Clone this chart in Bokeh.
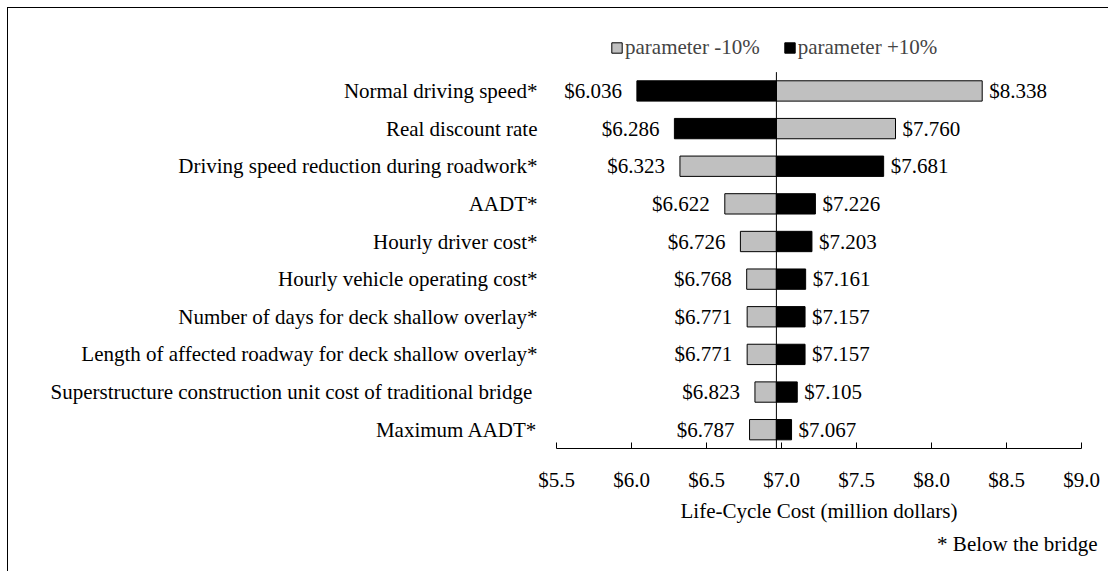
from bokeh.plotting import figure
from bokeh.models import (FactorRange, Range1d, Legend, LegendItem, FixedTicker,
                          NumeralTickFormatter, Title, ColumnDataSource)
from bokeh.core.properties import value
from bokeh.embed import file_html
from bokeh.resources import INLINE

# ---------------- data ----------------
parameters = [
    "Normal driving speed*",
    "Real discount rate",
    "Driving speed reduction during roadwork*",
    "AADT*",
    "Hourly driver cost*",
    "Hourly vehicle operating cost*",
    "Number of days for deck shallow overlay*",
    "Length of affected roadway for deck shallow overlay*",
    "Superstructure construction unit cost of traditional  bridge",
    "Maximum AADT*",
]
minus_10 = [8.338, 7.760, 6.323, 6.622, 6.726, 6.768, 6.771, 6.771, 6.823, 6.787]
plus_10 = [6.036, 6.286, 7.681, 7.226, 7.203, 7.161, 7.157, 7.157, 7.105, 7.067]
base_cost = 6.966
x_ticks = [5.5, 6.0, 6.5, 7.0, 7.5, 8.0, 8.5, 9.0]
series_names = ["parameter -10%", "parameter +10%"]

FONT = "Liberation Serif"
FS = "21px"
GREY = "#C0C0C0"
TOP_PAD = " "  # empty band above the bars that holds the legend

p = figure(width=1101, height=564, output_backend="svg", toolbar_location=None,
           x_range=Range1d(x_ticks[0], x_ticks[-1]),
           y_range=FactorRange(factors=list(reversed(parameters)) + [TOP_PAD]),
           min_border_left=548, min_border_right=28, min_border_top=26,
           min_border_bottom=124)
p.margin = (7, 0, 0, 7)
p.styles = {"border-top": "1px solid black", "border-left": "1px solid black"}
p.outline_line_color = None
p.xgrid.grid_line_color = None
p.ygrid.grid_line_color = None

src = ColumnDataSource(dict(y=parameters, base=[base_cost] * len(parameters),
                            lo=minus_10, hi=plus_10))
r_lo = p.hbar(y="y", left="base", right="lo", height=0.54, source=src,
              fill_color=GREY, line_color="black", line_width=1)
r_hi = p.hbar(y="y", left="base", right="hi", height=0.54, source=src,
              fill_color="black", line_color="black", line_width=1)

# vertical base-cost line spanning the bar area
p.segment(x0=[base_cost], x1=[base_cost],
          y0=[(parameters[0], 0.5)], y1=[(parameters[-1], -0.5)],
          line_color="black", line_width=1)

# value labels
lx, ly, lt, rx, ry, rt = [], [], [], [], [], []
for cat, a, b in zip(parameters, minus_10, plus_10):
    for v in (a, b):
        if v < base_cost:
            lx.append(v); ly.append(cat); lt.append(f"${v:.3f}")
        else:
            rx.append(v); ry.append(cat); rt.append(f"${v:.3f}")
p.text(x=lx, y=ly, text=lt, text_align="right", text_baseline="middle", x_offset=-15,
       text_font=value(FONT), text_font_size=FS, text_color="black")
p.text(x=rx, y=ry, text=rt, text_align="left", text_baseline="middle", x_offset=7,
       text_font=value(FONT), text_font_size=FS, text_color="black")

# axes
xa = p.xaxis[0]
xa.ticker = FixedTicker(ticks=x_ticks)
xa.formatter = NumeralTickFormatter(format="$0.0")
xa.minor_tick_line_color = None
xa.major_tick_in = 6
xa.major_tick_out = 0
xa.major_label_standoff = 19
xa.major_label_text_font = FONT
xa.major_label_text_font_size = FS
xa.major_label_text_color = "black"
xa.axis_line_color = "black"
xa.major_tick_line_color = "black"
xa.axis_label = "Life-Cycle Cost (million dollars)"
xa.axis_label_text_font = FONT
xa.axis_label_text_font_size = FS
xa.axis_label_text_font_style = "normal"
xa.axis_label_text_color = "black"
xa.axis_label_standoff = 4

ya = p.yaxis[0]
ya.axis_line_color = None
ya.major_tick_line_color = None
ya.minor_tick_line_color = None
ya.major_label_standoff = 13
ya.major_label_text_font = FONT
ya.major_label_text_font_size = FS
ya.major_label_text_color = "black"
ya.major_label_overrides = {TOP_PAD: ""}

legend = Legend(items=[LegendItem(label=series_names[0], renderers=[r_lo]),
                       LegendItem(label=series_names[1], renderers=[r_hi])],
                orientation="horizontal", location=(54, 388), margin=0, padding=0,
                spacing=23, glyph_width=13, glyph_height=13, label_standoff=2,
                label_text_font=FONT, label_text_font_size=FS, label_height=20,
                border_line_color=None, background_fill_alpha=0)
p.add_layout(legend, "center")

note = Title(text="* Below the bridge", align="right", offset=-16, text_font=FONT,
             text_font_size=FS, text_font_style="normal", text_color="black", standoff=8)
p.add_layout(note, "below")

open("out.html", "w").write(file_html(p, INLINE))
